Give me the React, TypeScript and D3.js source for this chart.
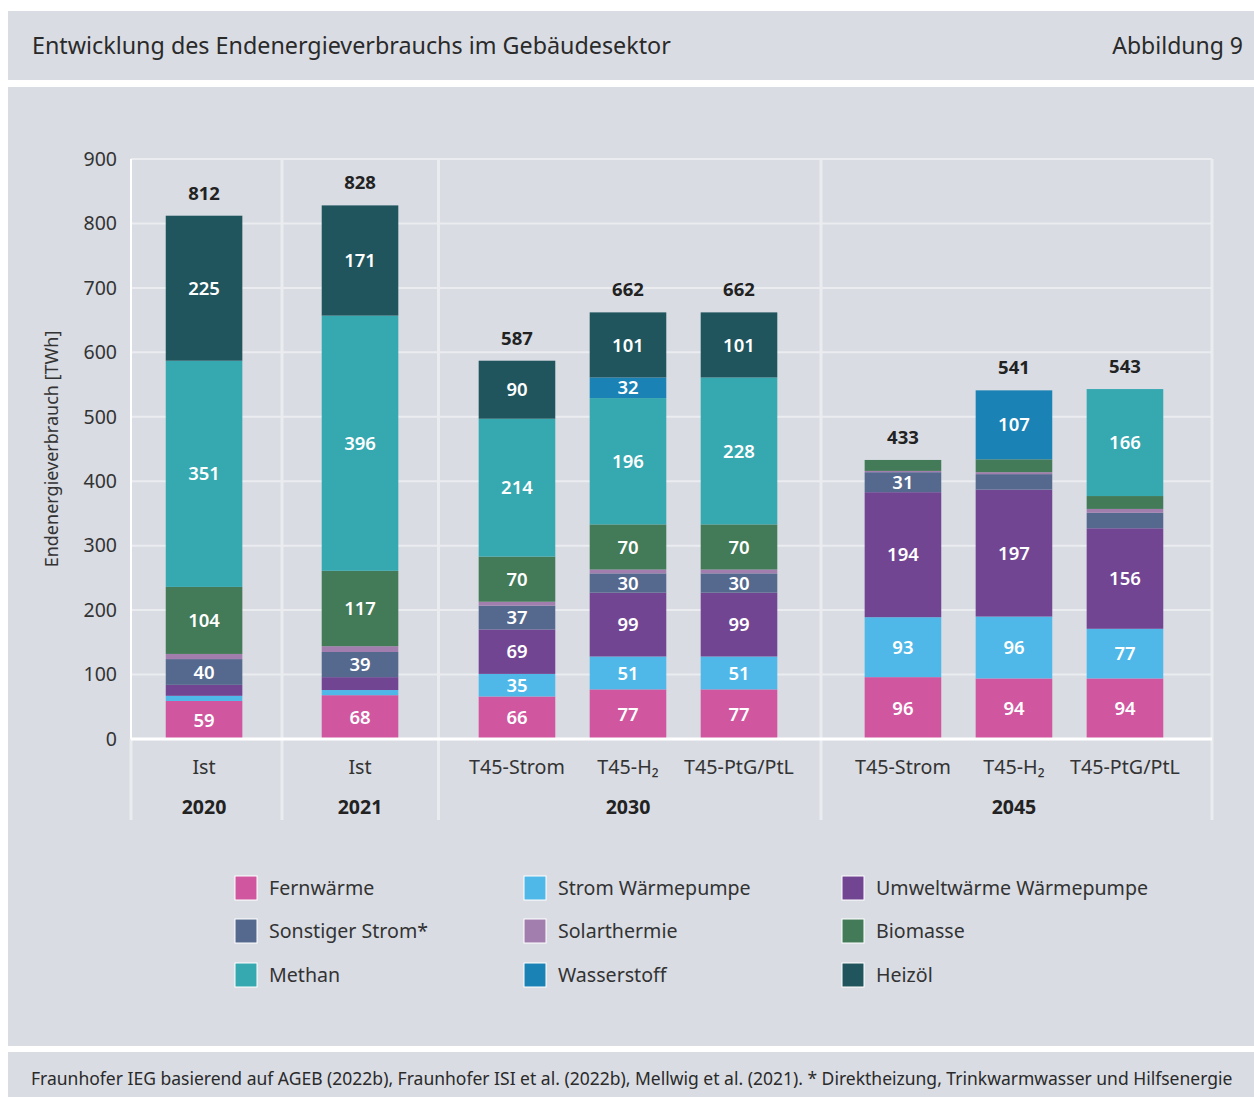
import React from "react";
import * as d3 from "d3";

// ---------- data ----------
const groups = ["2020", "2021", "2030", "2045"];
const scenarios = ["Ist", "Ist", "T45-Strom", "T45-H₂", "T45-PtG/PtL", "T45-Strom", "T45-H₂", "T45-PtG/PtL"];
const barGroup = [0, 1, 2, 2, 2, 3, 3, 3];

const seriesNames = [
  "Fernwärme",
  "Strom Wärmepumpe",
  "Umweltwärme Wärmepumpe",
  "Sonstiger Strom*",
  "Solarthermie",
  "Biomasse",
  "Methan",
  "Wasserstoff",
  "Heizöl",
];
const fernwaerme = [59, 68, 66, 77, 77, 96, 94, 94];
const stromWP = [8, 8, 35, 51, 51, 93, 96, 77];
const umweltwaerme = [17, 20, 69, 99, 99, 194, 197, 156];
const sonstigerStrom = [40, 39, 37, 30, 30, 31, 24, 24];
const solarthermie = [8, 9, 6, 6, 6, 2, 3, 6];
const biomasse = [104, 117, 70, 70, 70, 17, 20, 20];
const methan = [351, 396, 214, 196, 228, 0, 0, 166];
const wasserstoff = [0, 0, 0, 32, 0, 0, 107, 0];
const heizoel = [225, 171, 90, 101, 101, 0, 0, 0];
const totals = [812, 828, 587, 662, 662, 433, 541, 543];

const yTicks = [0, 100, 200, 300, 400, 500, 600, 700, 800, 900];

const seriesColors = ["#d0579f", "#50b8e8", "#724593", "#55698f", "#a27eae", "#437a58", "#35a8b0", "#1a82b5", "#21555d"];

// legend layout: row-major 3x3
const legendOrder = [0, 1, 2, 3, 4, 5, 6, 7, 8];

// ---------- layout ----------
const W = 1254;
const H = 1097;
const PANEL = "#d9dce3";
const GRID = "#eaecf0";
const FONT = "'Noto Sans', 'Open Sans', sans-serif";
const LEFT = 131;
const RIGHT = 1212;
const TOP = 159;
const BOTTOM = 739;
const GROUP_GAPS = [0.405, 0.414, 0.477];
const LABEL_MIN = 28;

export default function App() {
  const series = [fernwaerme, stromWP, umweltwaerme, sonstigerStrom, solarthermie, biomasse, methan, wasserstoff, heizoel];
  const slots = scenarios.map((_, i) => {
    let s = i;
    for (let g = 0; g < barGroup[i]; g++) s += GROUP_GAPS[g];
    return s;
  });
  const x = d3
    .scaleLinear()
    .domain([-0.658, slots[slots.length - 1] + 0.784])
    .range([LEFT, RIGHT]);
  const y = d3.scaleLinear().domain([0, 900]).range([BOTTOM, TOP]);
  const unit = x(1) - x(0);
  const bw = unit * 0.69;

  const rows = scenarios.map((_, i) => {
    const r: any = { i };
    seriesNames.forEach((n, k) => (r[n] = series[k][i]));
    return r;
  });
  const stacked = d3.stack<any>().keys(seriesNames)(rows);

  const separators: number[] = [];
  for (let g = 0; g < groups.length - 1; g++) {
    const last = barGroup.lastIndexOf(g);
    const first = barGroup.indexOf(g + 1);
    separators.push((x(slots[last]) + x(slots[first])) / 2);
  }
  const groupCenters = groups.map((_, g) => {
    const idx = barGroup.map((b, i) => (b === g ? i : -1)).filter((i) => i >= 0);
    return (x(slots[idx[0]]) + x(slots[idx[idx.length - 1]])) / 2;
  });

  const legendX = [235, 524, 842];
  const legendY = [888, 931, 975];

  return (
    <svg width={W} height={H} style={{ position: "absolute", left: 0, top: 0, fontFamily: FONT }}>
      <rect x={0} y={0} width={W} height={H} fill="#ffffff" />
      {/* header */}
      <rect x={8} y={11} width={W - 8} height={69} fill={PANEL} />
      <text x={32} y={54} fontSize={23.3} fill="#2a2a2a">
        Entwicklung des Endenergieverbrauchs im Gebäudesektor
      </text>
      <text x={1243} y={54} fontSize={23} fill="#2a2a2a" textAnchor="end">
        Abbildung 9
      </text>
      {/* main panel */}
      <rect x={8} y={87} width={W - 8} height={959} fill={PANEL} />
      {/* footer */}
      <rect x={8} y={1052} width={W - 8} height={H - 1052} fill={PANEL} />
      <text x={31} y={1085} fontSize={17.5} fill="#2a2a2a">
        Fraunhofer IEG basierend auf AGEB (2022b), Fraunhofer ISI et al. (2022b), Mellwig et al. (2021). * Direktheizung, Trinkwarmwasser und Hilfsenergie
      </text>

      {/* grid */}
      {yTicks.map((t) => (
        <line key={"g" + t} x1={LEFT} x2={RIGHT} y1={y(t)} y2={y(t)} stroke={GRID} strokeWidth={2} />
      ))}
      {separators.map((s, k) => (
        <line key={"s" + k} x1={s} x2={s} y1={TOP} y2={820} stroke={GRID} strokeWidth={3} />
      ))}
      <line x1={RIGHT} x2={RIGHT} y1={TOP} y2={820} stroke={GRID} strokeWidth={3} />
      <line x1={LEFT} x2={LEFT} y1={BOTTOM} y2={820} stroke={GRID} strokeWidth={3} />
      <line x1={LEFT} x2={LEFT} y1={TOP} y2={BOTTOM} stroke="#ffffff" strokeWidth={2} />

      {/* y tick labels */}
      {yTicks.map((t) => (
        <text key={"t" + t} x={117} y={y(t)} dy="0.35em" fontSize={19.5} fill="#333" textAnchor="end">
          {t}
        </text>
      ))}
      <text
        transform={`translate(52,${(y(0) + y(900)) / 2}) rotate(-90)`}
        fontSize={18}
        fill="#333"
        textAnchor="middle"
        dy="0.35em"
      >
        Endenergieverbrauch [TWh]
      </text>

      {/* bars */}
      {stacked.map((layer, k) => (
        <g key={layer.key} fill={seriesColors[k]}>
          {layer.map((d, i) =>
            d[1] - d[0] > 0 ? (
              <rect key={i} x={x(slots[i]) - bw / 2} y={y(d[1])} width={bw} height={y(d[0]) - y(d[1])} />
            ) : null
          )}
        </g>
      ))}
      {stacked.map((layer) =>
        layer.map((d, i) =>
          d[1] - d[0] >= LABEL_MIN ? (
            <text
              key={layer.key + "l" + i}
              x={x(slots[i])}
              y={(y(d[0]) + y(d[1])) / 2}
              dy="0.36em"
              fontSize={18.5}
              fontWeight={600}
              fill="#ffffff"
              textAnchor="middle"
            >
              {d[1] - d[0]}
            </text>
          ) : null
        )
      )}
      {totals.map((t, i) => (
        <text key={"tot" + i} x={x(slots[i])} y={y(t) - 16} fontSize={18.5} fontWeight={700} fill="#222" textAnchor="middle">
          {t}
        </text>
      ))}

      {/* baseline */}
      <line x1={LEFT} x2={RIGHT} y1={BOTTOM} y2={BOTTOM} stroke="#ffffff" strokeWidth={3} />

      {/* x labels */}
      {scenarios.map((s, i) => (
        <text key={"x" + i} x={x(slots[i])} y={774} fontSize={19.7} fill="#333" textAnchor="middle">
          {s}
        </text>
      ))}
      {groups.map((g, k) => (
        <text key={"yr" + g} x={groupCenters[k]} y={814} fontSize={19.5} fontWeight={700} fill="#222" textAnchor="middle">
          {g}
        </text>
      ))}

      {/* legend */}
      {legendOrder.map((k, n) => {
        const cx = legendX[n % 3];
        const cy = legendY[Math.floor(n / 3)];
        return (
          <g key={"lg" + k}>
            <rect x={cx} y={cy - 12} width={22} height={24} fill={seriesColors[k]} stroke="#ffffff" strokeWidth={1} />
            <text x={cx + 34} y={cy} dy="0.36em" fontSize={19.6} fill="#333">
              {seriesNames[k]}
            </text>
          </g>
        );
      })}
    </svg>
  );
}
